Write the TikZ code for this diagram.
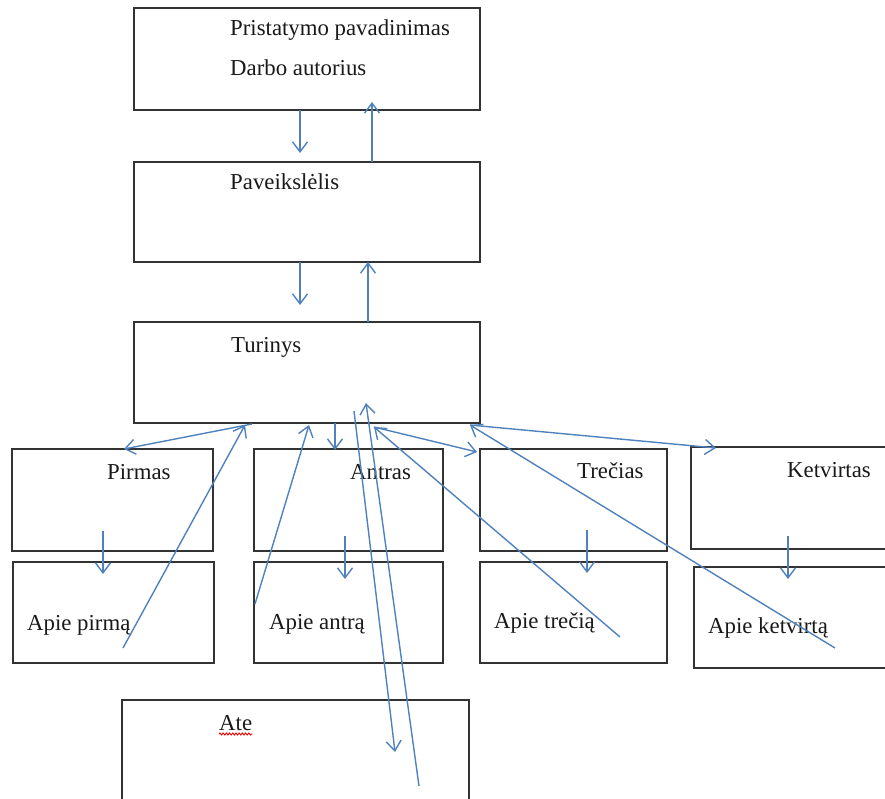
\documentclass[tikz,border=0pt]{standalone}
\usepackage{fontspec}
\setmainfont{Liberation Serif}
\usetikzlibrary{calc,arrows.meta,decorations.pathmorphing}
\definecolor{arrblue}{HTML}{4F81BD}
\begin{document}
\begin{tikzpicture}[x=1pt,y=-1pt,
  box/.style={draw=black!80,line width=1.5pt,inner sep=0pt,outer sep=0pt,anchor=north west},
  lbl/.style={anchor=base west,inner sep=0pt,text=black!90,font=\fontsize{22.8}{27}\selectfont},
  arr/.style={draw=arrblue,line width=1.4pt,-{Straight Barb[length=10pt,width=15pt]}}]
\useasboundingbox (0,0) rectangle (885,798);
\clip (0,0) rectangle (885,798);
% boxes
\node[box,minimum width=346pt,minimum height=102pt] (ntop) at (134,8) {};
\node[box,minimum width=346pt,minimum height=100pt] (pav) at (134,162) {};
\node[box,minimum width=346pt,minimum height=101pt] (tur) at (134,322) {};
\node[box,minimum width=201pt,minimum height=102pt] (pir) at (12,449) {};
\node[box,minimum width=189pt,minimum height=102pt] (ant) at (254,449) {};
\node[box,minimum width=187pt,minimum height=102pt] (tre) at (480,449) {};
\node[box,minimum width=215pt,minimum height=102pt] (ket) at (691,447) {};
\node[box,minimum width=201pt,minimum height=101pt] (apir) at (13,562) {};
\node[box,minimum width=189pt,minimum height=101pt] (aant) at (254,562) {};
\node[box,minimum width=187pt,minimum height=101pt] (atre) at (480,562) {};
\node[box,minimum width=212pt,minimum height=101pt] (aket) at (694,567) {};
\node[box,minimum width=347pt,minimum height=130pt] (ate) at (122,700) {};
% texts
\node[lbl] (t1) at (230,35) {Pristatymo pavadinimas};
\node[lbl] (t2) at (230,75) {Darbo autorius};
\node[lbl] (t3) at (230,189) {Paveikslėlis};
\node[lbl] (t4) at (231,352) {Turinys};
\node[lbl] (t5) at (107,479) {Pirmas};
\node[lbl] (t6) at (350,479) {Antras};
\node[lbl] (t7) at (577,478) {Trečias};
\node[lbl] (t8) at (787,477) {Ketvirtas};
\node[lbl] (t9) at (27,630) {Apie pirmą};
\node[lbl] (t10) at (269,629) {Apie antrą};
\node[lbl] (t11) at (494,628) {Apie trečią};
\node[lbl] (t12) at (708,633) {Apie ketvirtą};
\node[lbl] (t13) at (219,730) {Ate};
\draw[red,line width=0.9pt,decorate,decoration={snake,amplitude=1pt,segment length=3.2pt}]
  ($(t13.base west)+(0,4)$) -- ($(t13.base east)+(0,4)$);
% free ends
\coordinate (c1) at (300,153);
\coordinate (c3) at (300,305);
\coordinate (c6) at (123,648);
\coordinate (c7) at (255,604);
\coordinate (c9) at (395,752);
\coordinate (c10) at (419,786);
\coordinate (c11) at (620,637);
\coordinate (c13) at (835,648);
% connectors
\draw[arr] ($(ntop.south west)+(166,0)$) -- (c1);
\draw[arr] ($(pav.north west)+(238,0)$) -- ($(ntop.south west)+(238,-8)$);
\draw[arr] ($(pav.south west)+(166,0)$) -- (c3);
\draw[arr] ($(tur.north west)+(234,0)$) -- ($(pav.south west)+(234,0)$);
\draw[arr] ($(tur.south west)+(118,1)$) -- ($(pir.north west)+(112,0)$);
\draw[arr] (c6) -- ($(tur.south west)+(111,2)$);
\draw[arr] (c7) -- ($(tur.south west)+(175,2)$);
\draw[arr] ($(tur.south west)+(201,0)$) -- ($(ant.north west)+(81,1)$);
\draw[arr] ($(tur.south west)+(220,-12)$) -- (c9);
\draw[arr] (c10) -- ($(tur.south west)+(232,-20)$);
\draw[arr] (c11) -- ($(tur.south west)+(240,4)$);
\draw[arr] ($(tur.south west)+(240,4)$) -- ($(tre.north west)+(-3,3)$);
\draw[arr] (c13) -- ($(tur.south east)+(-10,2)$);
\draw[arr] ($(tur.south east)+(-10,2)$) -- ($(ket.north west)+(25,1)$);
\draw[arr] ($(pir.south west)+(91,-20)$) -- ($(apir.north west)+(90,12)$);
\draw[arr] ($(ant.south west)+(91,-15)$) -- ($(aant.north west)+(91,17)$);
\draw[arr] ($(tre.south west)+(107,-21)$) -- ($(atre.north west)+(107,11)$);
\draw[arr] ($(ket.south west)+(97,-13)$) -- ($(aket.north west)+(94,12)$);
\end{tikzpicture}
\end{document}
